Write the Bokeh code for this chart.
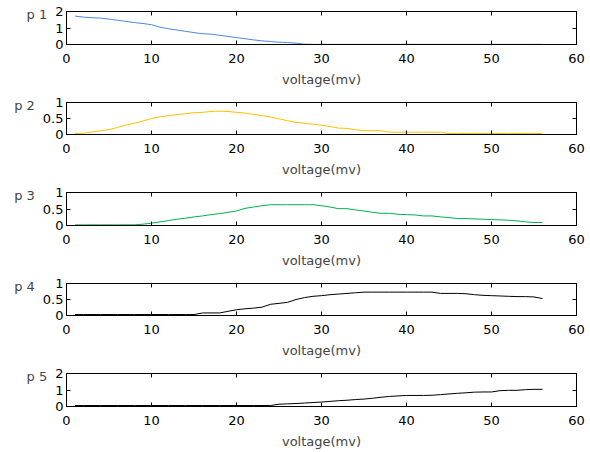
from bokeh.plotting import figure
from bokeh.models import FixedTicker, LinearAxis, Range1d, CustomJSTickFormatter
from bokeh.layouts import column
from bokeh.embed import file_html
from bokeh.resources import INLINE

voltage = list(range(1, 57))

p1 = [1.72, 1.66, 1.62, 1.60, 1.54, 1.47, 1.40, 1.33, 1.27, 1.20,
      1.05, 0.95, 0.88, 0.80, 0.72, 0.65, 0.63, 0.56, 0.49, 0.42,
      0.35, 0.28, 0.22, 0.18, 0.14, 0.12, 0.08, 0.02, 0.01, 0.01,
      0.01, 0.01, 0.01, 0.01, 0.01, 0.01, 0.01, 0.01, 0.01, 0.01,
      0.01, 0.01, 0.01, 0.01, 0.01, 0.01, 0.01, 0.01, 0.01, 0.01,
      0.01, 0.01, 0.01, 0.01, 0.01, 0.01]
p2 = [0.03, 0.04, 0.08, 0.12, 0.15, 0.22, 0.30, 0.35, 0.42, 0.50,
      0.55, 0.59, 0.62, 0.65, 0.68, 0.69, 0.72, 0.73, 0.72, 0.69,
      0.67, 0.63, 0.59, 0.55, 0.49, 0.43, 0.38, 0.35, 0.32, 0.29,
      0.25, 0.20, 0.19, 0.15, 0.12, 0.12, 0.12, 0.07, 0.07, 0.07,
      0.07, 0.07, 0.07, 0.07, 0.03, 0.03, 0.03, 0.03, 0.03, 0.03,
      0.03, 0.03, 0.03, 0.03, 0.03, 0.03]
p3 = [0.02, 0.02, 0.02, 0.02, 0.02, 0.02, 0.02, 0.02, 0.04, 0.07,
      0.11, 0.15, 0.19, 0.22, 0.26, 0.29, 0.33, 0.36, 0.40, 0.44,
      0.52, 0.56, 0.60, 0.63, 0.63, 0.63, 0.63, 0.63, 0.63, 0.60,
      0.56, 0.51, 0.51, 0.47, 0.44, 0.40, 0.37, 0.37, 0.34, 0.33,
      0.32, 0.29, 0.29, 0.26, 0.24, 0.21, 0.21, 0.20, 0.19, 0.18,
      0.17, 0.16, 0.14, 0.11, 0.09, 0.09]
p4 = [0.03, 0.03, 0.03, 0.03, 0.03, 0.03, 0.03, 0.03, 0.03, 0.03,
      0.03, 0.03, 0.03, 0.03, 0.03, 0.08, 0.08, 0.08, 0.13, 0.18,
      0.21, 0.23, 0.26, 0.35, 0.38, 0.41, 0.50, 0.56, 0.60, 0.62,
      0.65, 0.67, 0.69, 0.71, 0.73, 0.73, 0.73, 0.73, 0.73, 0.73,
      0.73, 0.73, 0.73, 0.69, 0.69, 0.69, 0.68, 0.65, 0.63, 0.62,
      0.61, 0.60, 0.59, 0.59, 0.58, 0.53]
p5 = [0.06, 0.06, 0.06, 0.06, 0.06, 0.06, 0.06, 0.06, 0.06, 0.06,
      0.06, 0.06, 0.06, 0.06, 0.06, 0.06, 0.06, 0.06, 0.06, 0.06,
      0.06, 0.06, 0.06, 0.06, 0.14, 0.16, 0.18, 0.21, 0.24, 0.27,
      0.31, 0.35, 0.38, 0.42, 0.45, 0.50, 0.56, 0.61, 0.64, 0.67,
      0.67, 0.67, 0.68, 0.72, 0.76, 0.80, 0.83, 0.87, 0.88, 0.88,
      0.96, 0.98, 0.98, 1.02, 1.04, 1.04]

x_ticks = [0, 10, 20, 30, 40, 50, 60]
y_ticks_2 = [0, 1, 2]
y_ticks_1 = [0, 0.5, 1]
y_labels_1 = {0: "0", 0.5: "0.5", 1: "1"}
series = [p1, p2, p3, p4, p5]
names = ["p 1", "p 2", "p 3", "p 4", "p 5"]
colors = ["#4f86e0", "#ffbf00", "#00b050", "#000000", "#000000"]
ymaxes = [2, 1, 1, 1, 2]

FONT = "DejaVu Sans"
FS = "13px"

heights = [91, 90, 91, 90, 89]
frame_hs = [33, 32, 33, 32, 33]
TOP = 11


def style_axis(ax, ticks, show_labels):
    ax.ticker = FixedTicker(ticks=ticks)
    ax.major_tick_in = 4
    ax.major_tick_out = 0
    ax.minor_tick_line_color = None
    ax.axis_line_color = "black"
    ax.major_tick_line_color = "black"
    ax.major_label_text_font = FONT
    ax.major_label_text_color = "black"
    ax.major_label_text_font_size = FS
    if not show_labels:
        ax.formatter = CustomJSTickFormatter(code="return ''")
        ax.major_label_standoff = 0


figs = []
for i in range(5):
    ymax = ymaxes[i]
    yt = y_ticks_2 if ymax == 2 else y_ticks_1
    h = heights[i]
    fh = frame_hs[i]
    p = figure(width=590, height=h, output_backend="svg", toolbar_location=None,
               x_range=Range1d(0, 60), y_range=Range1d(0, ymax),
               min_border_left=66, min_border_right=14, min_border_top=TOP,
               min_border_bottom=h - TOP - fh)
    p.line(voltage, series[i], line_color=colors[i], line_width=1)
    p.xgrid.visible = False
    p.ygrid.visible = False
    p.outline_line_color = "black"
    p.outline_line_width = 1
    p.background_fill_color = "white"
    p.border_fill_color = "white"

    style_axis(p.xaxis[0], x_ticks, True)
    p.xaxis[0].axis_label = "voltage(mv)"
    p.xaxis[0].axis_label_text_font = FONT
    p.xaxis[0].axis_label_text_font_size = FS
    p.xaxis[0].axis_label_text_font_style = "normal"
    p.xaxis[0].major_label_standoff = 9
    p.xaxis[0].axis_label_standoff = 6

    ya = p.yaxis[0]
    style_axis(ya, yt, True)
    ya.major_label_standoff = 3
    if ymax == 1:
        ya.major_label_overrides = y_labels_1
    ya.axis_label = "\n" + names[i]
    ya.axis_label_orientation = "horizontal"
    ya.axis_label_align = "end"
    ya.axis_label_standoff = 5
    ya.axis_label_text_font = FONT
    ya.axis_label_text_font_size = FS
    ya.axis_label_text_font_style = "normal"
    ya.axis_label_text_line_height = 0.4

    top = LinearAxis()
    style_axis(top, x_ticks, False)
    p.add_layout(top, "above")
    right = LinearAxis()
    style_axis(right, yt, False)
    p.add_layout(right, "right")

    figs.append(p)

layout = column(*figs, spacing=0)
open("out.html", "w").write(file_html(layout, INLINE))
